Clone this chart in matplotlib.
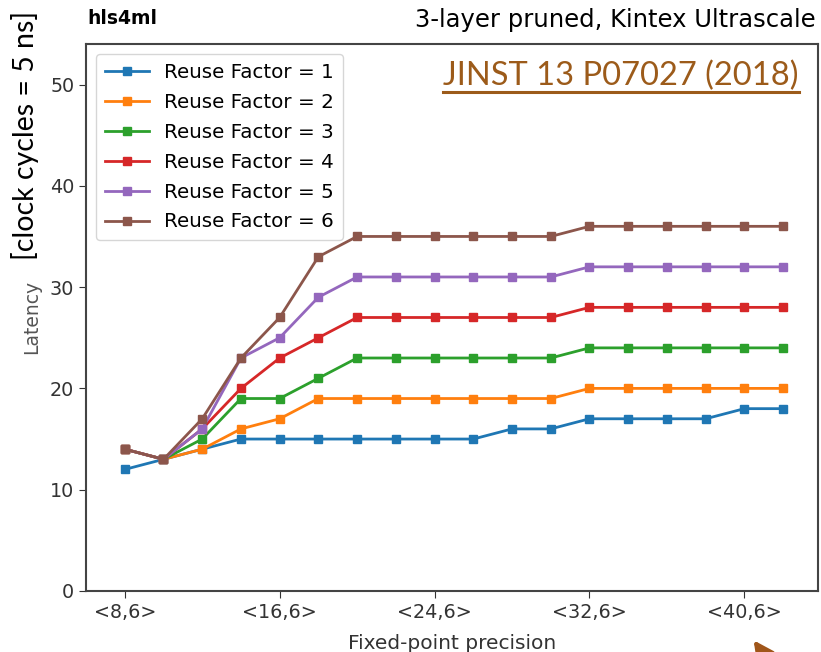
import numpy as np
import matplotlib.pyplot as plt

# bit width of the fixed-point type <W,6>
widths = np.arange(8, 44, 2)
tick_widths = [8, 16, 24, 32, 40]
tick_labels = ['<%d,6>' % w for w in tick_widths]

rf1 = [12, 13, 14, 15, 15, 15, 15, 15, 15, 15, 16, 16, 17, 17, 17, 17, 18, 18]
rf2 = [14, 13, 14, 16, 17, 19, 19, 19, 19, 19, 19, 19, 20, 20, 20, 20, 20, 20]
rf3 = [14, 13, 15, 19, 19, 21, 23, 23, 23, 23, 23, 23, 24, 24, 24, 24, 24, 24]
rf4 = [14, 13, 16, 20, 23, 25, 27, 27, 27, 27, 27, 27, 28, 28, 28, 28, 28, 28]
rf5 = [14, 13, 16, 23, 25, 29, 31, 31, 31, 31, 31, 31, 32, 32, 32, 32, 32, 32]
rf6 = [14, 13, 17, 23, 27, 33, 35, 35, 35, 35, 35, 35, 36, 36, 36, 36, 36, 36]
series = [rf1, rf2, rf3, rf4, rf5, rf6]

fig = plt.figure(figsize=(8.21, 6.52), dpi=100)
ax = fig.add_axes([0.1048, 0.0936, 0.8915, 0.8389])

for i, lat in enumerate(series):
    ax.plot(widths, lat, marker='s', markersize=6, linewidth=2,
            label='Reuse Factor = %d' % (i + 1))

ax.set_xlim(6, 43.8)
ax.set_ylim(0, 54)
ax.set_xticks(tick_widths)
ax.set_xticklabels(tick_labels)
ax.set_yticks([0, 10, 20, 30, 40, 50])
ax.tick_params(labelsize=13.8, colors='#333333', length=5)
for s in ax.spines.values():
    s.set_linewidth(1.5)
    s.set_color('#444444')

ax.set_xlabel('Fixed-point precision', fontsize=14.5, color='#333333', labelpad=9)
ax.legend(loc='upper left', fontsize=14.3, handlelength=2.2,
          borderpad=0.45, labelspacing=0.55, borderaxespad=0.5)

fig.text(0.107, 0.972, 'hls4ml', fontsize=13.5, fontweight='bold', va='center')
fig.text(0.993, 0.969, '3-layer pruned, Kintex Ultrascale', fontsize=17.5,
         ha='right', va='center')

fig.text(0.038, 0.514, 'Latency', fontsize=13.5, color='#555555',
         rotation=90, ha='center', va='center')
fig.text(0.030, 0.792, '[clock cycles = 5 ns]', fontsize=20.5, family='Lato',
         rotation=90, ha='center', va='center')

fig.text(0.972, 0.884, 'JINST 13 P07027 (2018)', fontsize=23.5, family='Lato',
         color='#9c5b1a', ha='right', va='center')
fig.add_artist(plt.Line2D([0.54, 0.973], [0.859, 0.859], color='#9c5b1a',
                          linewidth=2.2))

ax.annotate('', xy=(752, 14), xycoords='figure pixels',
            xytext=(790, -40), textcoords='figure pixels',
            arrowprops=dict(arrowstyle='-|>', color='#a0561a', lw=3,
                            mutation_scale=30),
            annotation_clip=False)

fig.savefig('out.png', dpi=100)
